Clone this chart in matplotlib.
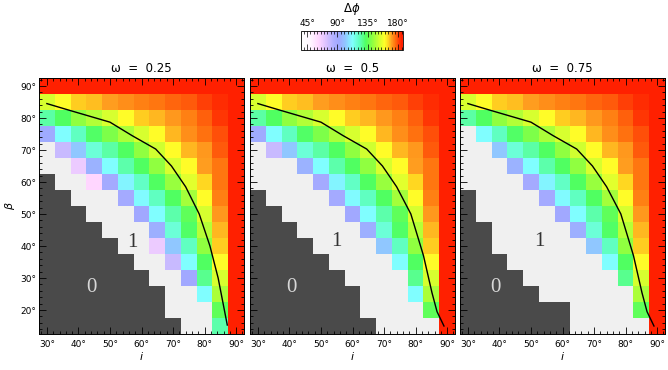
import numpy as np
import matplotlib
matplotlib.use('Agg')
import matplotlib.pyplot as plt
from matplotlib.colors import LinearSegmentedColormap, ListedColormap, Normalize
from matplotlib.ticker import MultipleLocator, FuncFormatter
import matplotlib.cm as cm

# cell centres
incl = [30, 35, 40, 45, 50, 55, 60, 65, 70, 75, 80, 85, 90]
beta = [90, 85, 80, 75, 70, 65, 60, 55, 50, 45, 40, 35, 30, 25, 20, 15]

# cell code: 0 -> region "0", 1 -> region "1", otherwise delta phi (deg)
grid_025 = [
    [185, 185, 185, 185, 185, 185, 185, 185, 185, 185, 185, 185, 185],
    [153, 160, 166, 167, 170, 172, 174, 175, 176.5, 178, 181, 183, 185],
    [125, 132, 142, 147, 153, 160, 166, 168, 171, 174, 177.5, 182, 185],
    [93, 112, 122, 131, 139, 146, 153, 160, 168, 172, 175.5, 179, 185],
    [1, 78, 102, 118, 125, 132, 142, 152, 160, 168, 171, 178, 185],
    [1, 1, 68, 95, 112, 124, 132, 142, 153, 160, 170, 175, 185],
    [0, 1, 1, 62, 90, 110, 121, 132, 143, 155, 165, 175, 185],
    [0, 0, 1, 1, 1, 90, 111, 122, 132, 145, 160, 174, 185],
    [0, 0, 0, 1, 1, 1, 92, 112, 124, 134, 153, 171, 185],
    [0, 0, 0, 0, 1, 1, 1, 94, 118, 131, 148, 168, 185],
    [0, 0, 0, 0, 0, 1, 1, 68, 102, 122, 142, 166, 185],
    [0, 0, 0, 0, 0, 0, 1, 1, 78, 112, 132, 160, 185],
    [0, 0, 0, 0, 0, 0, 0, 1, 1, 92, 127, 153, 185],
    [0, 0, 0, 0, 0, 0, 0, 0, 1, 1, 112, 146, 185],
    [0, 0, 0, 0, 0, 0, 0, 0, 1, 1, 1, 134, 185],
    [0, 0, 0, 0, 0, 0, 0, 0, 0, 1, 1, 124, 185],
]
grid_05 = [
    [185, 185, 185, 185, 185, 185, 185, 185, 185, 185, 185, 185, 185],
    [153, 160, 166, 167, 170, 172, 174, 175, 176.5, 178, 181, 183, 185],
    [125, 132, 142, 147, 153, 160, 166, 168, 171, 174, 177.5, 182, 185],
    [93, 112, 122, 131, 139, 146, 153, 160, 168, 172, 175.5, 179, 185],
    [1, 78, 102, 118, 125, 132, 142, 152, 160, 168, 171, 178, 185],
    [1, 1, 1, 95, 112, 124, 132, 142, 153, 160, 170, 175, 185],
    [1, 1, 1, 1, 90, 110, 121, 132, 143, 155, 165, 175, 185],
    [0, 1, 1, 1, 1, 90, 111, 122, 132, 145, 160, 174, 185],
    [0, 0, 1, 1, 1, 1, 92, 112, 124, 134, 153, 171, 185],
    [0, 0, 0, 1, 1, 1, 1, 94, 118, 131, 148, 168, 185],
    [0, 0, 0, 0, 1, 1, 1, 1, 102, 122, 142, 166, 185],
    [0, 0, 0, 0, 0, 1, 1, 1, 1, 112, 132, 160, 185],
    [0, 0, 0, 0, 0, 0, 1, 1, 1, 1, 127, 153, 185],
    [0, 0, 0, 0, 0, 0, 0, 1, 1, 1, 112, 146, 185],
    [0, 0, 0, 0, 0, 0, 0, 1, 1, 1, 1, 134, 185],
    [0, 0, 0, 0, 0, 0, 0, 0, 1, 1, 1, 1, 185],
]
grid_075 = [
    [185, 185, 185, 185, 185, 185, 185, 185, 185, 185, 185, 185, 185],
    [153, 160, 166, 167, 170, 172, 174, 175, 176.5, 178, 181, 183, 185],
    [125, 132, 142, 147, 153, 160, 166, 168, 171, 174, 177.5, 182, 185],
    [1, 112, 122, 131, 139, 146, 153, 160, 168, 172, 175.5, 179, 185],
    [1, 1, 102, 118, 125, 132, 142, 152, 160, 168, 171, 178, 185],
    [1, 1, 1, 95, 112, 124, 132, 142, 153, 160, 170, 175, 185],
    [1, 1, 1, 1, 90, 110, 121, 132, 143, 155, 165, 175, 185],
    [0, 1, 1, 1, 1, 90, 111, 122, 132, 145, 160, 174, 185],
    [0, 1, 1, 1, 1, 1, 92, 112, 124, 134, 153, 171, 185],
    [0, 0, 1, 1, 1, 1, 1, 94, 118, 131, 148, 168, 185],
    [0, 0, 1, 1, 1, 1, 1, 1, 102, 122, 142, 166, 185],
    [0, 0, 0, 1, 1, 1, 1, 1, 1, 112, 132, 160, 185],
    [0, 0, 0, 0, 1, 1, 1, 1, 1, 1, 127, 153, 185],
    [0, 0, 0, 0, 0, 1, 1, 1, 1, 1, 1, 146, 185],
    [0, 0, 0, 0, 0, 0, 0, 1, 1, 1, 1, 134, 185],
    [0, 0, 0, 0, 0, 0, 0, 1, 1, 1, 1, 1, 185],
]

# black curve in each panel
line_i_025 = [30, 37.5, 50, 57, 64.5, 69.5, 74, 78.3, 81.7, 84.3, 87.2]
line_b_025 = [84.5, 82.3, 78.7, 74.5, 70.3, 65, 58.5, 50, 40, 30, 15.3]
line_i_05 = [30, 37.5, 50, 57, 64.5, 69.5, 74, 78.5, 82.5, 85.2, 86.8, 89]
line_b_05 = [84.5, 82.3, 78.7, 74.5, 70.3, 65, 58.5, 50, 37, 25.4, 19.5, 15]
line_i_075 = [30, 37.5, 50, 57, 64.5, 69.5, 74, 78.5, 82.5, 85.2, 86.8, 89]
line_b_075 = [84.5, 82.3, 78.7, 74.5, 70.3, 65, 58.5, 50, 37, 25.4, 19.5, 15]

titles = ['0.25', '0.5', '0.75']
label_pos = [((44, 27), (57, 41)), ((40.7, 27), (55, 41.5)), ((38.8, 27), (52.8, 41.5))]

# colour table for delta phi
stops = [(36, '#ffffff'), (50, '#fff6ff'), (62, '#ffd6ff'), (74, '#d8c0ff'),
         (84, '#b0b0ff'), (92, '#a0a8ff'), (102, '#90c8ff'), (112, '#80ffff'),
         (122, '#60ffc0'), (132, '#50ff60'), (142, '#90ff40'), (152, '#d0ff30'),
         (160, '#ffff28'), (166, '#ffd020'), (170, '#ffa020'), (175, '#ff7810'),
         (180, '#ff4808'), (185, '#ff2000'), (187, '#ff2000')]
vmin, vmax = 36, 187
cmap = LinearSegmentedColormap.from_list(
    'dphi', [((v - vmin) / (vmax - vmin), c) for v, c in stops])
norm = Normalize(vmin, vmax)
region_cmap = ListedColormap(['#4a4a4a', '#f0f0f0'])

i_edges = np.append(np.array(incl) - 2.5, incl[-1] + 2.5)
b_edges = np.append(np.array(beta[::-1]) - 2.5, beta[0] + 2.5)

W, H = 668, 370
fig = plt.figure(figsize=(W / 100, H / 100), dpi=100)
deg = FuncFormatter(lambda v, p: f'{v:.0f}°')

grids = [grid_025, grid_05, grid_075]
lines = [(line_i_025, line_b_025), (line_i_05, line_b_05), (line_i_075, line_b_075)]
lefts = [39, 250, 460]
for k in range(3):
    ax = fig.add_axes([lefts[k] / W, 1 - 334 / H, 205 / W, 256 / H])
    g = np.array(grids[k], dtype=float)[::-1]
    region = np.ma.masked_where(g > 1, g)
    dphi = np.ma.masked_where(g <= 1, g)
    ax.pcolormesh(i_edges, b_edges, region, cmap=region_cmap, vmin=0, vmax=1)
    ax.pcolormesh(i_edges, b_edges, dphi, cmap=cmap, norm=norm)
    ax.plot(lines[k][0], lines[k][1], color='black', lw=1.0)
    (x0, y0), (x1, y1) = label_pos[k]
    ax.text(x0, y0, '0', color='#d8d8d8', fontsize=15, family='Liberation Serif',
            ha='center', va='center')
    ax.text(x1, y1, '1', color='#333333', fontsize=15, family='Liberation Serif',
            ha='center', va='center')
    ax.set_xlim(27.5, 92.5)
    ax.set_ylim(12.5, 92.5)
    ax.xaxis.set_major_locator(MultipleLocator(10))
    ax.xaxis.set_minor_locator(MultipleLocator(2))
    ax.yaxis.set_major_locator(MultipleLocator(10))
    ax.yaxis.set_minor_locator(MultipleLocator(2))
    ax.xaxis.set_major_formatter(deg)
    ax.yaxis.set_major_formatter(deg)
    ax.tick_params(which='both', direction='in', top=True, right=True,
                   width=0.6, color='black', labelsize=6.5)
    ax.tick_params(which='major', length=5)
    ax.tick_params(which='minor', length=2.5)
    ax.tick_params(axis='x', pad=4)
    ax.tick_params(axis='y', pad=2)
    for s in ax.spines.values():
        s.set_linewidth(0.7)
    if k > 0:
        ax.tick_params(axis='y', labelleft=False)
    else:
        ax.set_ylabel(r'$\beta$', fontsize=8, labelpad=2)
    ax.set_xlabel(r'$i$', fontsize=8, labelpad=1)
    ax.set_title('ω  =  ' + titles[k], fontsize=8.5, pad=4)

# colour bar
cax = fig.add_axes([301 / W, 1 - 50 / H, 102 / W, 19 / H])
cb = fig.colorbar(cm.ScalarMappable(norm=norm, cmap=cmap), cax=cax,
                  orientation='horizontal', ticks=[45, 90, 135, 180])
cb.ax.xaxis.set_ticks_position('both')
cb.ax.xaxis.set_label_position('top')
cb.ax.xaxis.set_major_formatter(deg)
cb.ax.xaxis.set_minor_locator(MultipleLocator(5))
cb.ax.tick_params(which='both', direction='in', labeltop=True, labelbottom=False,
                  width=0.5, labelsize=6.5, pad=2)
cb.ax.tick_params(which='major', length=4)
cb.ax.tick_params(which='minor', length=2)
cb.outline.set_linewidth(0.6)
fig.text(352 / W, 1 - 9 / H, r'$\Delta\phi$', fontsize=8.5, ha='center', va='center')

fig.savefig('out.png', dpi=100)
